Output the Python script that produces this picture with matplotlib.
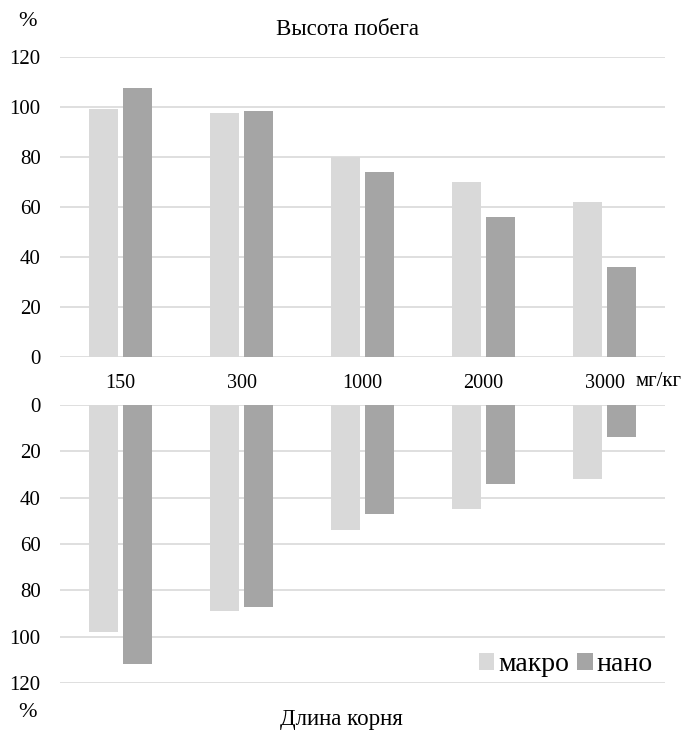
import matplotlib
matplotlib.use("Agg")
import matplotlib.pyplot as plt
import numpy as np

# data
doses = ["150", "300", "1000", "2000", "3000"]
shoot_macro = [99, 97.5, 80, 70, 62]
shoot_nano = [107.5, 98.5, 74, 56, 36]
root_macro = [98, 89, 54, 45, 32]
root_nano = [112, 87, 47, 34, 14]

c_macro = "#d9d9d9"
c_nano = "#a5a5a5"
c_grid = "#d9d9d9"

plt.rcParams["font.family"] = ["Liberation Serif", "DejaVu Serif"]

fig = plt.figure(figsize=(6.93, 7.30), dpi=100)
ax_top = fig.add_axes([0.0866, 0.511, 0.873, 0.411])
ax_bot = fig.add_axes([0.0866, 0.0644, 0.873, 0.381])

x = np.arange(len(doses))
w = 0.24
off = 0.14

for ax, macro, nano in ((ax_top, shoot_macro, shoot_nano), (ax_bot, root_macro, root_nano)):
    ax.bar(x - off, macro, width=w, color=c_macro, label="макро", zorder=2)
    ax.bar(x + off, nano, width=w, color=c_nano, label="нано", zorder=2)
    ax.set_xlim(-0.5, len(doses) - 0.5)
    ax.set_ylim(0, 120)
    ax.set_yticks(np.arange(0, 121, 20))
    ax.grid(axis="y", color=c_grid, linewidth=1.2, zorder=0)
    for s in ax.spines.values():
        s.set_visible(False)
    ax.tick_params(axis="y", length=0, labelsize=15, pad=14)
    ax.set_axisbelow(True)

ax_top.set_xticks(x)
ax_top.set_xticklabels(doses)
ax_top.tick_params(axis="x", length=0, labelsize=14.5, pad=12)

ax_bot.invert_yaxis()
ax_bot.set_xticks([])

fig.text(0.039, 0.970, "%", fontsize=16, ha="center", va="center")
fig.text(0.501, 0.960, "Высота побега", fontsize=16.5, ha="center", va="center")
fig.text(0.039, 0.024, "%", fontsize=16, ha="center", va="center")
fig.text(0.493, 0.015, "Длина корня", fontsize=16.5, ha="center", va="center")
fig.text(0.951, 0.477, "мг/кг", fontsize=15, ha="center", va="center")

ax_bot.legend(loc="center right", bbox_to_anchor=(0.98, 0.065), frameon=False, fontsize=20,
              handlelength=0.55, handleheight=0.55, handletextpad=0.15, columnspacing=0.3, ncol=2,
              borderaxespad=0, borderpad=0)

fig.savefig("out.png", dpi=100)
